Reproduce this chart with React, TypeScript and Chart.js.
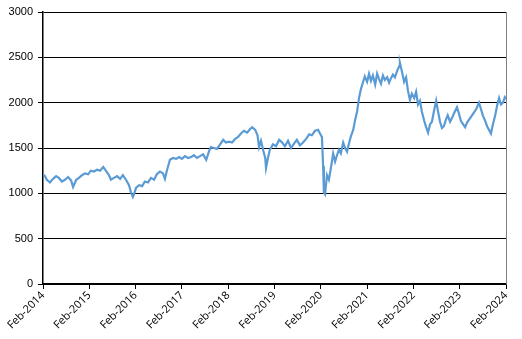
import React, { useEffect, useRef } from "react";
import { Chart, registerables } from "chart.js";

Chart.register(...registerables);

// months elapsed since Feb-2014
const months = [
  0, 0.5, 1, 1.8, 2.6, 3.4, 4.1, 4.9, 5.7, 6.5, 7.3, 7.8, 8.6, 9.3, 10.1, 10.9, 11.7,
  12.4, 13.2, 14, 14.8, 15.6, 16.3, 17.1, 17.6, 18.4, 19.2, 20, 20.7, 21.5, 22.3, 22.8,
  23.3, 23.6, 24.1, 24.9, 25.7, 26.4, 27.2, 28, 28.8, 29.5, 30.3, 31.1, 31.6, 32.1, 32.9,
  33.7, 34.5, 35.3, 36, 36.8, 37.6, 38.4, 39.1, 39.9, 40.7, 41.5, 42.3, 43, 43.5, 44.3,
  45.1, 45.9, 46.7, 47.4, 48.2, 49, 49.8, 50.5, 51.3, 52.1, 52.9, 53.7, 54.2, 55, 55.6,
  56, 56.5, 57.1, 57.6, 57.8, 58.3, 58.8, 59.6, 60.4, 61.2, 62, 62.7, 63.5, 64.3, 65.1,
  65.8, 66.6, 67.4, 68.2, 69, 69.7, 70.5, 71.3, 71.8, 72.3, 72.6, 72.8, 73.1, 73.6, 74.1,
  74.7, 75.2, 75.7, 76.2, 76.7, 77.2, 77.8, 78.3, 78.8, 79.3, 79.8, 80.4, 80.9, 81.4,
  81.9, 82.4, 82.9, 83.4, 84, 84.5, 85, 85.5, 86.1, 86.6, 87.1, 87.6, 88.1, 88.6, 89.2,
  89.7, 90.2, 90.7, 91.2, 91.8, 92.3, 92.5, 93, 93.6, 94.1, 94.6, 95.1, 95.6, 96.2, 96.7,
  97.2, 97.7, 98.2, 98.8, 99.3, 99.8, 100.3, 100.8, 101.3, 101.9, 102.4, 102.9, 103.4,
  103.9, 104.4, 104.9, 105.5, 106, 106.5, 107.3, 107.8, 108.3, 108.9, 109.4, 109.9,
  110.7, 111.5, 112.3, 113, 113.5, 114, 114.6, 115.1, 115.6, 116.1, 116.6, 117.2, 117.7,
  118.2, 118.7, 119.2, 119.7, 120,
];

const values = [
  1210, 1190, 1150, 1120, 1160, 1190, 1170, 1130, 1150, 1180, 1140, 1070, 1150, 1170, 1200, 1220, 1210,
  1250, 1240, 1260, 1250, 1290, 1250, 1200, 1150, 1170, 1190, 1160, 1200, 1150, 1090, 1010,
  960, 990, 1060, 1090, 1080, 1130, 1120, 1170, 1150, 1210, 1240, 1220, 1160, 1250, 1370,
  1390, 1380, 1400, 1380, 1410, 1390, 1400, 1420, 1390, 1410, 1430, 1370, 1460, 1510, 1500,
  1490, 1540, 1590, 1560, 1570, 1560, 1600, 1620, 1660, 1690, 1670, 1710, 1730, 1700, 1640,
  1510, 1580, 1470, 1390, 1280, 1390, 1480, 1540, 1520, 1590, 1560, 1520, 1580, 1500, 1550,
  1590, 1530, 1560, 1600, 1650, 1640, 1690, 1700, 1660, 1620, 1300, 1010, 990, 1200, 1150,
  1300, 1440, 1350, 1420, 1480, 1440, 1560, 1500, 1460, 1550, 1630, 1700, 1810, 1900,
  2050, 2150, 2220, 2290, 2230, 2320, 2240, 2300, 2200, 2320, 2260, 2210, 2300, 2250, 2280,
  2220, 2270, 2310, 2280, 2350, 2400, 2440, 2350, 2230, 2280, 2130, 2030, 2100, 2050, 2120,
  1980, 2020, 1900, 1800, 1730, 1670, 1760, 1790, 1900, 2020, 1900, 1790, 1720,
  1740, 1810, 1860, 1790, 1830, 1880, 1950, 1880, 1800, 1760, 1730, 1780,
  1830, 1880, 1930, 2000, 1930, 1860, 1800, 1740, 1700, 1660, 1760, 1860, 1970,
  2050, 1980, 2000, 2060, 2040,
];

const yearLabels = [
  "Feb-2014", "Feb-2015", "Feb-2016", "Feb-2017", "Feb-2018", "Feb-2019",
  "Feb-2020", "Feb-2021", "Feb-2022", "Feb-2023", "Feb-2024",
];

const rightBorder = {
  id: "rightBorder",
  afterDraw(chart: any) {
    const { ctx, chartArea } = chart;
    ctx.save();
    ctx.strokeStyle = "#808080";
    ctx.lineWidth = 1;
    ctx.beginPath();
    ctx.moveTo(Math.round(chartArea.right) + 0.5, chartArea.top);
    ctx.lineTo(Math.round(chartArea.right) + 0.5, chartArea.bottom);
    ctx.stroke();
    ctx.restore();
  },
};

export default function App() {
  const ref = useRef<HTMLCanvasElement | null>(null);
  useEffect(() => {
    if (!ref.current) return;
    const chart = new Chart(ref.current, {
      type: "line",
      data: {
        datasets: [
          {
            data: months.map((m, i) => ({ x: m, y: values[i] })),
            borderColor: "#5B9BD5",
            borderWidth: 2.2,
            pointRadius: 0,
            tension: 0,
            fill: false,
          },
        ],
      },
      options: {
        animation: false,
        responsive: false,
        maintainAspectRatio: false,
        layout: { padding: { top: 12, right: 16, left: 0, bottom: 0 } },
        plugins: { legend: { display: false }, tooltip: { enabled: false } },
        scales: {
          x: {
            type: "linear",
            min: 0,
            max: 120,
            afterFit: (s: any) => {
              s.height = 55;
            },
            afterBuildTicks: (s: any) => {
              s.ticks = yearLabels.map((_, i) => ({ value: i * 12 }));
            },
            ticks: {
              autoSkip: false,
              maxRotation: 45,
              minRotation: 45,
              color: "#000",
              font: { family: "Open Sans", size: 11 },
              padding: 0,
              callback: (v: any) => yearLabels[Math.round(Number(v) / 12)],
            },
            grid: {
              drawOnChartArea: false,
              drawTicks: true,
              tickLength: 5,
              tickColor: "#000",
            },
            border: { display: true, color: "#000", width: 1.5 },
          },
          y: {
            min: 0,
            max: 3000,
            afterFit: (s: any) => {
              s.width = 43;
            },
            ticks: {
              stepSize: 500,
              color: "#000",
              font: { family: "Liberation Sans", size: 11 },
              padding: 5,
              callback: (v: any) => String(v),
            },
            grid: {
              color: "#000",
              lineWidth: 1,
              tickLength: 5,
              tickColor: "#000",
            },
            border: { display: true, color: "#000", width: 1.5 },
          },
        },
      },
      plugins: [rightBorder],
    });
    return () => chart.destroy();
  }, []);
  return (
    <div style={{ position: "fixed", left: 0, top: 0, width: 522, height: 339 }}>
      <canvas ref={ref} width={522} height={339} style={{ width: 522, height: 339 }} />
    </div>
  );
}
